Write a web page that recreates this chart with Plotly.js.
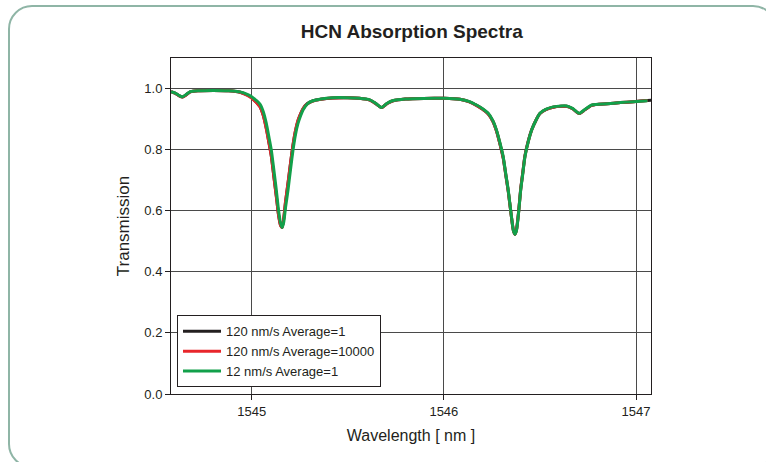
<!DOCTYPE html>
<html>
<head>
<meta charset="utf-8">
<script src="https://cdn.plot.ly/plotly-3.0.1.min.js"></script>
<style>
  html, body { margin: 0; padding: 0; background: #ffffff; overflow: hidden; }
  #wrap { position: relative; width: 766px; height: 462px; overflow: hidden; }
  #frame { position: absolute; left: 8px; top: 5px; width: 769px; height: 463px;
           border: 2.5px solid #8fb5a6; border-radius: 24px; box-sizing: border-box; }
  #chart { position: absolute; left: 0; top: 0; width: 766px; height: 462px; }
</style>
</head>
<body>
<div id="wrap">
  <div id="frame"></div>
  <div id="chart"></div>
</div>
<script>
// Wavelength samples (nm)
const wavelength = [
  1544.580, 1544.600, 1544.620, 1544.640, 1544.660, 1544.680, 1544.720, 1544.800,
  1544.880, 1544.940, 1544.980, 1545.000, 1545.020, 1545.042, 1545.060, 1545.076,
  1545.090, 1545.102, 1545.115, 1545.128, 1545.140, 1545.150, 1545.158, 1545.166,
  1545.176, 1545.189, 1545.202, 1545.215, 1545.228, 1545.241, 1545.255, 1545.267,
  1545.290, 1545.319, 1545.360, 1545.420, 1545.500, 1545.560, 1545.615, 1545.645,
  1545.675, 1545.705, 1545.736, 1545.800, 1545.840, 1545.950, 1546.000, 1546.050,
  1546.083, 1546.130, 1546.170, 1546.200, 1546.231, 1546.255, 1546.274, 1546.292,
  1546.309, 1546.322, 1546.335, 1546.350, 1546.362, 1546.370, 1546.378, 1546.390,
  1546.400, 1546.411, 1546.422, 1546.440, 1546.457, 1546.480, 1546.500, 1546.530,
  1546.569, 1546.610, 1546.639, 1546.670, 1546.705, 1546.735, 1546.769, 1546.850,
  1546.920, 1546.986, 1547.060, 1547.080
];

// 120 nm/s, Average = 1
const fast_avg1 = [
  0.990, 0.985, 0.977, 0.972, 0.980, 0.989, 0.993, 0.994,
  0.993, 0.988, 0.978, 0.970, 0.958, 0.942, 0.913, 0.870,
  0.822, 0.780, 0.714, 0.648, 0.585, 0.553, 0.545, 0.570,
  0.628, 0.690, 0.755, 0.815, 0.862, 0.895, 0.918, 0.934,
  0.951, 0.960, 0.965, 0.969, 0.970, 0.968, 0.962, 0.951,
  0.938, 0.951, 0.960, 0.966, 0.967, 0.968, 0.968, 0.967,
  0.965, 0.957, 0.945, 0.933, 0.917, 0.893, 0.861, 0.818,
  0.772, 0.718, 0.664, 0.588, 0.535, 0.523, 0.538, 0.603,
  0.672, 0.726, 0.780, 0.830, 0.865, 0.897, 0.918, 0.931,
  0.939, 0.942, 0.942, 0.934, 0.918, 0.931, 0.945, 0.950,
  0.954, 0.957, 0.961, 0.962
];

// 120 nm/s, Average = 10000
const fast_avg10000 = [
  0.990, 0.985, 0.977, 0.972, 0.980, 0.989, 0.993, 0.994,
  0.993, 0.988, 0.977, 0.969, 0.957, 0.941, 0.912, 0.868,
  0.822, 0.779, 0.713, 0.647, 0.584, 0.552, 0.545, 0.571,
  0.630, 0.691, 0.756, 0.816, 0.863, 0.896, 0.918, 0.934,
  0.950, 0.959, 0.965, 0.969, 0.970, 0.968, 0.962, 0.951,
  0.938, 0.951, 0.960, 0.966, 0.967, 0.968, 0.968, 0.967,
  0.965, 0.957, 0.945, 0.933, 0.917, 0.893, 0.861, 0.819,
  0.773, 0.719, 0.665, 0.588, 0.535, 0.523, 0.537, 0.602,
  0.671, 0.725, 0.779, 0.829, 0.864, 0.897, 0.918, 0.931,
  0.939, 0.942, 0.942, 0.934, 0.918, 0.931, 0.945, 0.950,
  0.954, 0.957, 0.961, null
];

// 12 nm/s, Average = 1
const slow_avg1 = [
  0.990, 0.986, 0.978, 0.973, 0.981, 0.990, 0.993, 0.994,
  0.993, 0.989, 0.980, 0.973, 0.963, 0.950, 0.925, 0.886,
  0.840, 0.799, 0.735, 0.668, 0.600, 0.560, 0.545, 0.560,
  0.610, 0.668, 0.735, 0.799, 0.850, 0.886, 0.912, 0.930,
  0.950, 0.960, 0.966, 0.970, 0.970, 0.968, 0.963, 0.952,
  0.938, 0.952, 0.961, 0.966, 0.967, 0.968, 0.968, 0.967,
  0.965, 0.958, 0.946, 0.935, 0.919, 0.895, 0.864, 0.822,
  0.777, 0.722, 0.668, 0.590, 0.535, 0.523, 0.535, 0.600,
  0.668, 0.722, 0.777, 0.828, 0.864, 0.897, 0.919, 0.932,
  0.940, 0.943, 0.943, 0.935, 0.919, 0.932, 0.946, 0.950,
  0.954, 0.957, 0.960, null
];

const seriesNames = ["120 nm/s Average=1", "120 nm/s Average=10000", "12 nm/s Average=1"];
const seriesColors = ["#231f20", "#e8262b", "#12a04a"];
const seriesValues = [fast_avg1, fast_avg10000, slow_avg1];

const xTicks = [1545, 1546, 1547];
const xTickText = ["1545", "1546", "1547"];
const yTicks = [0.0, 0.2, 0.4, 0.6, 0.8, 1.0];
const yTickText = ["0.0", "0.2", "0.4", "0.6", "0.8", "1.0"];

const ink = "#231f20";
const fontFam = "'Liberation Sans', Arial, Helvetica, sans-serif";

const traces = seriesValues.map((vals, i) => ({
  type: "scatter",
  mode: "lines",
  x: wavelength,
  y: vals,
  name: seriesNames[i],
  line: { color: seriesColors[i], width: 3, shape: "spline", smoothing: 0.6 },
  connectgaps: false,
  hoverinfo: "skip"
}));

const axisCommon = {
  showline: true,
  linecolor: ink,
  linewidth: 1,
  mirror: true,
  showgrid: true,
  gridcolor: "#4a4a4a",
  gridwidth: 1,
  zeroline: false,
  ticks: "outside",
  ticklen: 5,
  tickwidth: 1,
  tickcolor: ink,
  tickfont: { family: fontFam, size: 13, color: ink }
};

const layout = {
  width: 766,
  height: 462,
  paper_bgcolor: "rgba(0,0,0,0)",
  plot_bgcolor: "#ffffff",
  margin: { l: 171, r: 115, t: 58, b: 68, pad: 0 },
  font: { family: fontFam, color: ink },
  title: {
    text: "<b>HCN Absorption Spectra</b>",
    font: { family: fontFam, size: 19, color: ink },
    x: 0.5375, xanchor: "center", xref: "container",
    y: 0.933, yanchor: "middle", yref: "container"
  },
  xaxis: Object.assign({}, axisCommon, {
    range: [1544.58, 1547.078],
    tickvals: xTicks,
    ticktext: xTickText,
    title: { text: "Wavelength [ nm ]", font: { family: fontFam, size: 16, color: ink }, standoff: 12 }
  }),
  yaxis: Object.assign({}, axisCommon, {
    range: [0, 1.1],
    tickvals: yTicks,
    ticktext: yTickText,
    title: { text: "Transmission", font: { family: fontFam, size: 17, color: ink }, standoff: 10 }
  }),
  showlegend: true,
  legend: {
    x: 0.0125, xanchor: "left",
    y: 0.02, yanchor: "bottom",
    bgcolor: "#ffffff",
    bordercolor: ink,
    borderwidth: 1,
    font: { family: fontFam, size: 13, color: ink },
    itemwidth: 38,
    traceorder: "normal"
  }
};

Plotly.newPlot("chart", traces, layout, { displayModeBar: false, staticPlot: true });
</script>
</body>
</html>
